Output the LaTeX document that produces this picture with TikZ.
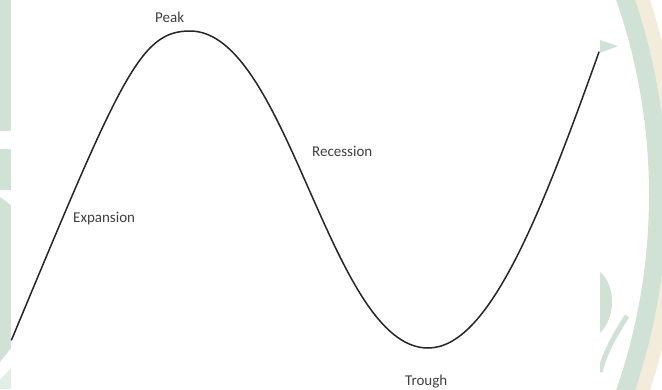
\documentclass[tikz,border=0pt]{standalone}
\usepackage{fontspec}
\setmainfont{Carlito}
\definecolor{wmgreen}{HTML}{D0E2D5}
\definecolor{wmbeige}{HTML}{F4ECDA}
\begin{document}
\begin{tikzpicture}[x=1pt,y=-1pt,
  lbl/.style={anchor=base west, inner sep=0pt, font=\fontsize{15}{18}\selectfont, text=black!75},
  wave/.style={line width=1.5pt, draw=black!85, line join=round, line cap=round}]
\useasboundingbox (0,0) rectangle (662,389);
\fill[white] (0,0) rectangle (662,389);
% left watermark strip
\fill[wmgreen] (0,0) rectangle (11,131);
\fill[wmgreen] (0,149) rectangle (11,190);
\fill[wmgreen] (0,197) -- (11,205) -- (11,348) -- (0,362) -- cycle;
\fill[wmgreen!60] (0,389) -- (0,380) -- (11,368) -- (11,389) -- cycle;
% right watermark
\begin{scope}
  \clip (600,0) rectangle (662,389);
  \draw[wmbeige, line width=14pt] (56,195) circle[radius=618pt];
  \draw[wmgreen, line width=18pt] (56,195) circle[radius=602pt];
  \fill[wmgreen] (600,40) -- (618,46) -- (600,53) -- cycle;
  \fill[wmgreen] (600,272) .. controls (616,285) and (616,318) .. (600,333) -- cycle;
  \draw[wmgreen, line width=5pt] (627,316) .. controls (615,335) and (605,352) .. (600,372);
\end{scope}
% white panel
\fill[white] (11,0) rectangle (600,389);
% business cycle curve
\coordinate (start) at (11.5,340);
\coordinate (top) at (190,31);
\coordinate (bottom) at (428,348);
\coordinate (finish) at (599,52);
\draw[wave] (start) .. controls (121.5,76) and (140,31) .. (top)
  .. controls (288,31) and (330,348) .. (bottom)
  .. controls (488,348) and (539,220) .. (finish);
% labels
\node[lbl] (peak) at (155,22) {Peak};
\node[lbl] (expansion) at (73,222.5) {Expansion};
\node[lbl] (recession) at (312,156) {Recession};
\node[lbl] (trough) at (405,385) {Trough};
\end{tikzpicture}
\end{document}
